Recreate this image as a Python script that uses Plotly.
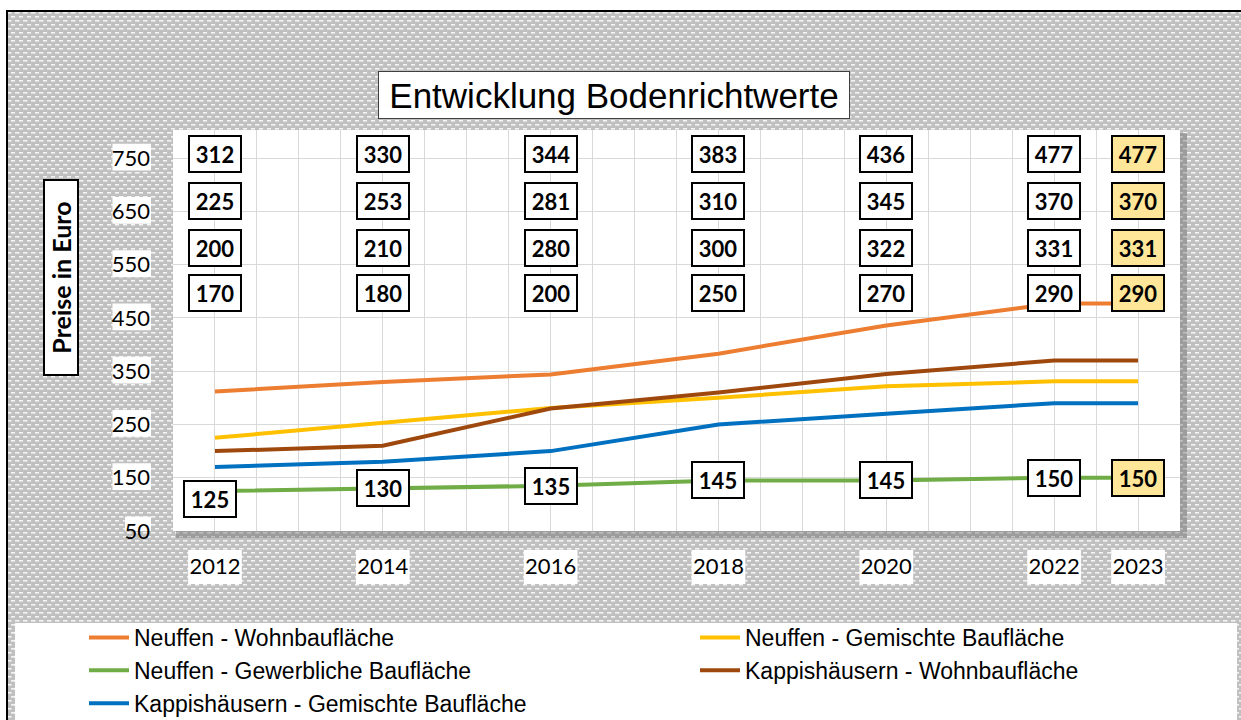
import base64
import plotly.graph_objects as go

# ---------------- data ----------------
years = [2012, 2014, 2016, 2018, 2020, 2022, 2023]
neuffen_wohn = [312, 330, 344, 383, 436, 477, 477]
neuffen_gemischt = [225, 253, 281, 300, 322, 331, 331]
neuffen_gewerbe = [125, 130, 135, 145, 145, 150, 150]
kapp_wohn = [200, 210, 280, 310, 345, 370, 370]
kapp_gemischt = [170, 180, 200, 250, 270, 290, 290]

series_names = [
    "Neuffen - Wohnbaufläche",
    "Neuffen - Gemischte Baufläche",
    "Neuffen - Gewerbliche Baufläche",
    "Kappishäusern - Wohnbaufläche",
    "Kappishäusern - Gemischte Baufläche",
]
series_values = [neuffen_wohn, neuffen_gemischt, neuffen_gewerbe, kapp_wohn, kapp_gemischt]
series_colors = ["#ED7D31", "#FFC000", "#70AD47", "#9E480E", "#0070C0"]

y_ticks = [50, 150, 250, 350, 450, 550, 650, 750]
title_text = "Entwicklung Bodenrichtwerte"
y_title = "Preise in Euro"

# ---------------- layout helpers ----------------
W, H = 1241, 720
def px(x):
    return x / W
def py(y):
    return 1 - y / H

PLOT_L, PLOT_R, PLOT_T, PLOT_B = 173, 1180, 130, 531
LABEL_ROWS = [758, 670, 582, 496]  # y positions (axis units) of stacked value boxes
NUM_FONT = "Lato"
TXT_FONT = "Liberation Sans"

fig = go.Figure()
for name, vals, col in zip(series_names, series_values, series_colors):
    fig.add_trace(go.Scatter(x=years, y=vals, name=name, mode="lines",
                             line=dict(color=col, width=4)))

# pattern background
svg = (
    "<svg xmlns='http://www.w3.org/2000/svg' width='1234' height='709'>"
    "<defs><pattern id='p' width='8' height='8' patternUnits='userSpaceOnUse'>"
    "<rect width='8' height='8' fill='#c0c0c0'/>"
    "<rect x='0' y='1' width='4.5' height='1.6' fill='#f4f4f4'/>"
    "<rect x='4' y='5' width='4.5' height='1.6' fill='#f4f4f4'/>"
    "</pattern></defs><rect width='100%' height='100%' fill='url(#p)'/></svg>"
)
src = "data:image/svg+xml;base64," + base64.b64encode(svg.encode()).decode()
fig.add_layout_image(dict(source=src, xref="paper", yref="paper", x=px(7), y=py(11),
                          sizex=(W - 7) / W, sizey=(H - 11) / H, sizing="stretch",
                          xanchor="left", yanchor="top", layer="below"))

shapes = []
# shadow + plot area
shapes.append(dict(type="rect", xref="paper", yref="paper", x0=px(PLOT_L + 3), x1=px(PLOT_R + 7),
                   y0=py(PLOT_B + 7), y1=py(PLOT_T + 3), fillcolor="rgba(90,90,90,0.35)",
                   line=dict(width=0), layer="below"))
shapes.append(dict(type="rect", xref="paper", yref="paper", x0=px(PLOT_L), x1=px(PLOT_R),
                   y0=py(PLOT_B), y1=py(PLOT_T), fillcolor="white",
                   line=dict(width=0), layer="below"))
# legend area
shapes.append(dict(type="rect", xref="paper", yref="paper", x0=px(15), x1=px(1237),
                   y0=py(H + 5), y1=py(623), fillcolor="white", line=dict(width=0), layer="below"))
# white boxes behind tick labels
for v in y_ticks:
    wbox = 12.5 * len(str(v)) + 1
    shapes.append(dict(type="rect", xref="paper", yref="y", x0=px(151 - wbox), x1=px(151),
                       y0=v - 23, y1=v + 27, fillcolor="white", line=dict(width=0), layer="below"))
for yr in years:
    shapes.append(dict(type="rect", xref="x", yref="paper", x0=yr - 0.32, x1=yr + 0.32,
                       y0=py(584), y1=py(550), fillcolor="white", line=dict(width=0), layer="below"))
# outer border
shapes.append(dict(type="rect", xref="paper", yref="paper", x0=px(7), x1=px(W + 10),
                   y0=py(H + 10), y1=py(11), line=dict(color="black", width=2),
                   fillcolor="rgba(0,0,0,0)", layer="above"))

annotations = []
# title
annotations.append(dict(text=title_text, xref="paper", yref="paper", x=px(614), y=py(71),
                        showarrow=False, font=dict(family=TXT_FONT, size=35, color="black"),
                        bgcolor="white", bordercolor="#404040", borderwidth=1,
                        width=468, height=44, borderpad=1))
# y-axis title
annotations.append(dict(text="<b>" + y_title + "</b>", xref="paper", yref="paper", x=px(43), y=py(278),
                        showarrow=False, textangle=-90, font=dict(family=NUM_FONT, size=25, color="black"),
                        bgcolor="white", bordercolor="black", borderwidth=2,
                        width=193, height=32, borderpad=0))
# stacked value boxes
upper = [neuffen_wohn, neuffen_gemischt, kapp_wohn, kapp_gemischt]
for i, yr in enumerate(years):
    fill = "#FFE699" if i == len(years) - 1 else "white"
    vals = sorted([s[i] for s in upper], reverse=True)
    for r, v in enumerate(vals):
        annotations.append(dict(text=f"<b>{v}</b>", x=yr, y=LABEL_ROWS[r], xref="x", yref="y",
                                showarrow=False, font=dict(family=NUM_FONT, size=22, color="black"),
                                bgcolor=fill, bordercolor="black", borderwidth=2,
                                width=50, height=34, borderpad=0))
    annotations.append(dict(text=f"<b>{neuffen_gewerbe[i]}</b>", x=yr, y=neuffen_gewerbe[i],
                            xref="x", yref="y", showarrow=False,
                            yshift=-8 if i == 0 else 0, xshift=-5 if i == 0 else 0,
                            font=dict(family=NUM_FONT, size=22, color="black"),
                            bgcolor=fill, bordercolor="black", borderwidth=2,
                            width=50, height=34, borderpad=0))

fig.update_layout(
    width=W, height=H,
    margin=dict(l=0, r=0, t=0, b=0, autoexpand=False),
    paper_bgcolor="white",
    plot_bgcolor="rgba(0,0,0,0)",
    shapes=shapes,
    annotations=annotations,
    showlegend=True,
    legend=dict(orientation="h", x=px(84), y=py(616), xanchor="left", yanchor="top",
                bgcolor="rgba(0,0,0,0)", font=dict(family=TXT_FONT, size=23, color="black"),
                entrywidth=556, entrywidthmode="pixels", itemwidth=40,
                traceorder="normal"),
    xaxis=dict(domain=[px(PLOT_L), px(PLOT_R)], range=[2011.5, 2023.5],
               tickmode="array", tickvals=years, ticktext=[str(y) for y in years],
               showgrid=True, gridcolor="#D9D9D9", gridwidth=1,
               minor=dict(tickmode="linear", tick0=2011.5, dtick=0.5, showgrid=True,
                          gridcolor="#D9D9D9", gridwidth=1),
               zeroline=False, showline=False, ticks="",
               tickfont=dict(family=NUM_FONT, size=22, color="black"),
               ticklabelstandoff=20, automargin=False),
    yaxis=dict(domain=[py(PLOT_B), py(PLOT_T)], range=[50, 803],
               tickmode="array", tickvals=y_ticks,
               showgrid=True, gridcolor="#D9D9D9", gridwidth=1,
               zeroline=False, showline=False, ticks="",
               tickfont=dict(family=NUM_FONT, size=22, color="black"),
               ticklabelstandoff=22, automargin=False),
)

fig.write_html("out.html", config={"displayModeBar": False},
               post_script="document.body.style.margin='0';document.body.style.overflow='hidden';")
